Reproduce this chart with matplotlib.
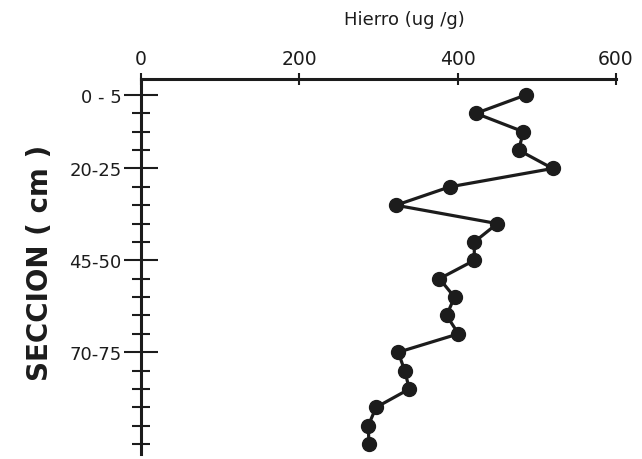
import matplotlib.pyplot as plt

# perfil de hierro por seccion del nucleo (cada 5 cm)
profundidad = list(range(0, 100, 5))
hierro = [486, 423, 483, 477, 520, 390, 322, 450, 421, 421,
          377, 396, 386, 401, 325, 333, 339, 297, 287, 288]
etiquetas_pos = [0, 20, 45, 70]
etiquetas = ['0 - 5', '20-25', '45-50', '70-75']
x_ticks = [0, 200, 400, 600]

tinta = '#1c1c1c'

fig = plt.figure(figsize=(6.42, 4.60), dpi=100)
ax = fig.add_axes([141 / 642, 1 - 455 / 460, 475 / 642, 375 / 460])

ax.plot(hierro, profundidad, '-o', color=tinta, lw=2.3,
        markersize=10, markerfacecolor=tinta, markeredgecolor=tinta,
        clip_on=False)

ax.set_xlim(0, 600)
ax.set_ylim(97.7, -4.35)

# eje X arriba, solo spines superior e izquierdo
ax.xaxis.tick_top()
ax.spines['bottom'].set_visible(False)
ax.spines['right'].set_visible(False)
ax.spines['top'].set_linewidth(2.2)
ax.spines['left'].set_linewidth(2.2)
ax.spines['top'].set_color(tinta)
ax.spines['left'].set_color(tinta)

ax.set_xticks(x_ticks)
ax.set_xticklabels([str(v) for v in x_ticks])
ax.tick_params(axis='x', direction='inout', length=9, width=1.5,
               pad=3.5, labelsize=13.5, colors=tinta)

ax.set_yticks(etiquetas_pos)
ax.set_yticklabels(etiquetas)
ax.set_yticks(profundidad, minor=True)
ax.tick_params(axis='y', which='major', direction='inout', length=24,
               width=1.5, pad=2, labelsize=13, colors=tinta)
ax.tick_params(axis='y', which='minor', direction='inout', length=13,
               width=1.5, colors=tinta)

fig.text(404 / 642, 1 - 20 / 460, 'Hierro (ug /g)', ha='center',
         va='center', fontsize=13, color=tinta)
fig.text(40 / 642, 1 - 263 / 460, 'SECCION ( cm )', rotation=90,
         ha='center', va='center', fontsize=20, fontweight='bold',
         color=tinta)

fig.savefig('out.png', dpi=100, facecolor='white')
